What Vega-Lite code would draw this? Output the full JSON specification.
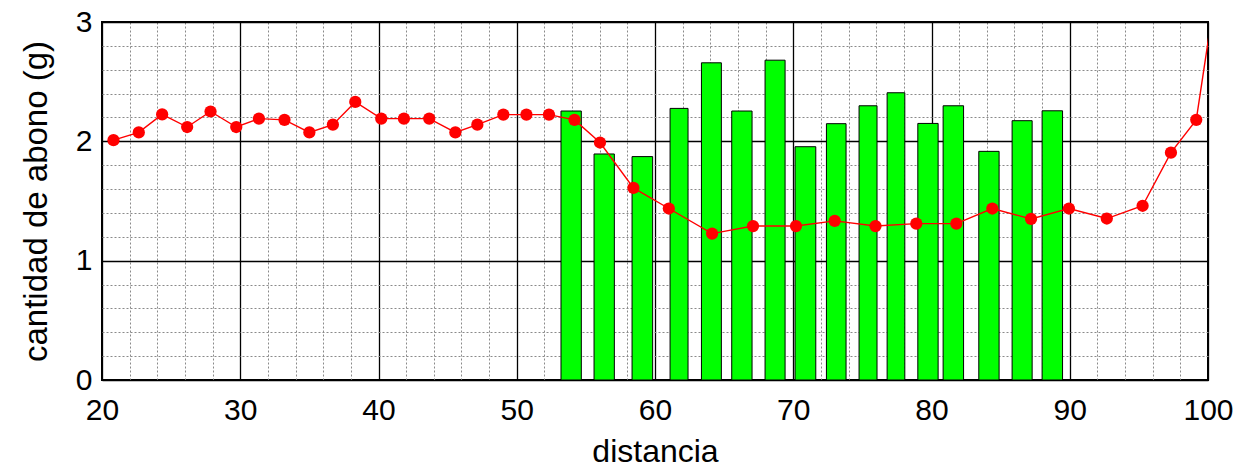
{
  "$schema": "https://vega.github.io/schema/vega-lite/v6.json",
  "width": 1106,
  "height": 358,
  "autosize": "none",
  "padding": {"left": 102, "top": 22, "right": 43, "bottom": 89},
  "background": "white",
  "config": {
    "view": {"stroke": "black", "strokeWidth": 2},
    "font": "Liberation Sans",
    "axis": {"labelFont": "Liberation Sans", "titleFont": "Liberation Sans", "labelColor": "black", "titleColor": "black", "titleFontWeight": "normal", "labelOverlap": false}
  },
  "datasets": {
    "bars": [
      {"d0": 53.20, "d1": 54.67, "g": 2.254},
      {"d0": 55.59, "d1": 57.06, "g": 1.894},
      {"d0": 58.34, "d1": 59.83, "g": 1.872},
      {"d0": 61.09, "d1": 62.39, "g": 2.276},
      {"d0": 63.36, "d1": 64.80, "g": 2.658},
      {"d0": 65.55, "d1": 67.02, "g": 2.254},
      {"d0": 67.96, "d1": 69.41, "g": 2.68},
      {"d0": 70.13, "d1": 71.63, "g": 1.955},
      {"d0": 72.40, "d1": 73.82, "g": 2.148},
      {"d0": 74.76, "d1": 76.06, "g": 2.298},
      {"d0": 76.79, "d1": 78.07, "g": 2.407},
      {"d0": 79.01, "d1": 80.48, "g": 2.15},
      {"d0": 80.84, "d1": 82.32, "g": 2.298},
      {"d0": 83.42, "d1": 84.89, "g": 1.916},
      {"d0": 85.83, "d1": 87.28, "g": 2.173},
      {"d0": 88.00, "d1": 89.48, "g": 2.256}
    ],
    "points": [
      {"d": 20.83, "g": 2.01},
      {"d": 22.66, "g": 2.075},
      {"d": 24.35, "g": 2.226},
      {"d": 26.16, "g": 2.12},
      {"d": 27.85, "g": 2.25},
      {"d": 29.71, "g": 2.12},
      {"d": 31.35, "g": 2.19},
      {"d": 33.2, "g": 2.18},
      {"d": 35.0, "g": 2.075},
      {"d": 36.7, "g": 2.14},
      {"d": 38.32, "g": 2.33},
      {"d": 40.2, "g": 2.19},
      {"d": 41.84, "g": 2.19},
      {"d": 43.67, "g": 2.19},
      {"d": 45.56, "g": 2.075},
      {"d": 47.15, "g": 2.14},
      {"d": 49.03, "g": 2.224},
      {"d": 50.7, "g": 2.224},
      {"d": 52.33, "g": 2.224},
      {"d": 54.18, "g": 2.18},
      {"d": 56.02, "g": 1.99},
      {"d": 58.44, "g": 1.61},
      {"d": 61.0, "g": 1.437},
      {"d": 64.13, "g": 1.227},
      {"d": 67.09, "g": 1.29},
      {"d": 70.2, "g": 1.29},
      {"d": 73.0, "g": 1.333},
      {"d": 75.95, "g": 1.29},
      {"d": 78.9, "g": 1.31},
      {"d": 81.8, "g": 1.31},
      {"d": 84.4, "g": 1.437},
      {"d": 87.2, "g": 1.35},
      {"d": 89.94, "g": 1.437},
      {"d": 92.68, "g": 1.353},
      {"d": 95.27, "g": 1.46},
      {"d": 97.32, "g": 1.905},
      {"d": 99.15, "g": 2.18},
      {"d": 101.0, "g": 3.6}
    ]
  },
  "layer": [
    {
      "data": {"name": "bars"},
      "mark": {"type": "bar", "fill": "#00ff00", "stroke": "black", "strokeWidth": 1, "clip": true},
      "encoding": {
        "x": {"field": "d0", "type": "quantitative",
          "scale": {"domain": [20, 100], "nice": false, "zero": false},
          "axis": {
            "title": "distancia", "titleFontSize": 32, "titlePadding": 11,
            "labelFontSize": 30, "labelPadding": 15, "labelFlush": false,
            "tickCount": 200,
            "values": [20,22,24,26,28,30,32,34,36,38,40,42,44,46,48,50,52,54,56,58,60,62,64,66,68,70,72,74,76,78,80,82,84,86,88,90,92,94,96,98,100],
            "labelExpr": "datum.value % 10 === 0 ? format(datum.value, 'd') : ''",
            "tickSize": 0, "domain": false,
            "grid": true,
            "gridColor": {"condition": {"test": "datum.value % 10 === 0", "value": "black"}, "value": "#8a8a8a"},
            "gridDash": {"condition": {"test": "datum.value % 10 === 0", "value": []}, "value": [2, 2]},
            "gridWidth": {"condition": {"test": "datum.value % 10 === 0", "value": 1.3}, "value": 1}
          }
        },
        "x2": {"field": "d1"},
        "y": {"field": "g", "type": "quantitative",
          "scale": {"domain": [0, 3], "nice": false},
          "axis": {
            "title": "cantidad de abono (g)", "titleFontSize": 33, "titlePadding": 22,
            "labelFontSize": 30, "labelPadding": 10, "labelFlush": false,
            "tickCount": 200,
            "values": [0,0.2,0.4,0.6,0.8,1,1.2,1.4,1.6,1.8,2,2.2,2.4,2.6,2.8,3],
            "labelExpr": "abs(datum.value - round(datum.value)) < 0.001 ? format(datum.value, 'd') : ''",
            "tickSize": 0, "domain": false,
            "grid": true,
            "gridColor": {"condition": {"test": "abs(datum.value - round(datum.value)) < 0.001", "value": "black"}, "value": "#8a8a8a"},
            "gridDash": {"condition": {"test": "abs(datum.value - round(datum.value)) < 0.001", "value": []}, "value": [2, 2]},
            "gridWidth": {"condition": {"test": "abs(datum.value - round(datum.value)) < 0.001", "value": 1.3}, "value": 1}
          }
        },
        "y2": {"datum": 0}
      }
    },
    {
      "data": {"name": "points"},
      "mark": {"type": "line", "color": "#ff0000", "strokeWidth": 1.4, "clip": true},
      "encoding": {
        "x": {"field": "d", "type": "quantitative"},
        "y": {"field": "g", "type": "quantitative"}
      }
    },
    {
      "data": {"name": "points"},
      "mark": {"type": "point", "filled": true, "color": "#ff0000", "size": 150, "opacity": 1, "clip": true},
      "encoding": {
        "x": {"field": "d", "type": "quantitative"},
        "y": {"field": "g", "type": "quantitative"}
      }
    }
  ]
}
